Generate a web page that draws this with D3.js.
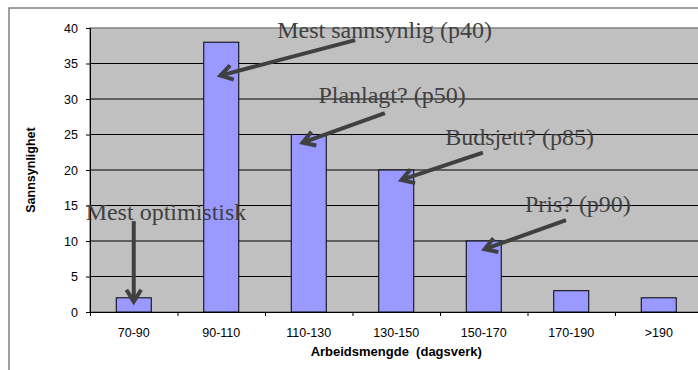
<!DOCTYPE html>
<html>
<head>
<meta charset="utf-8">
<script src="https://cdn.jsdelivr.net/npm/d3@7"></script>
<style>
  html, body { margin: 0; padding: 0; background: #ffffff; }
  svg { display: block; }
</style>
</head>
<body>
<svg id="chart" width="698" height="370"></svg>
<script>
// Arbeidsmengde distribution
const categories = ["70-90", "90-110", "110-130", "130-150", "150-170", "170-190", ">190"];
const values = [2, 38, 25, 20, 10, 3, 2];
const yTicks = [0, 5, 10, 15, 20, 25, 30, 35, 40];

// Callouts: text anchor and arrow tail/head, in (category-index units, value units)
const annLabels = ["Mest sannsynlig (p40)", "Planlagt? (p50)", "Budsjett? (p85)", "Pris? (p90)", "Mest optimistisk"];
const annTextX = [2.14, 2.61, 4.06, 4.97, -0.05];
const annTextY = [38.6, 29.45, 23.5, 14.15, 12.95];
const annTailX = [3.03, 3.37, 4.49, 5.44, 0.5];
const annTailY = [38.3, 28.0, 22.45, 12.95, 12.8];
const annHeadX = [1.49, 2.43, 3.56, 4.51, 0.5];
const annHeadY = [33.3, 23.85, 18.6, 8.85, 1.45];

const svg = d3.select("#chart");
const margin = { left: 90, top: 28, bottom: 312 };
const bandW = 87.5;
const plotRight = margin.left + bandW * categories.length;

const x = d3.scaleBand().domain(categories).range([margin.left, plotRight]).paddingInner(0.6).paddingOuter(0.3);
const xi = d3.scaleLinear().domain([0, categories.length]).range([margin.left, plotRight]);
const y = d3.scaleLinear().domain([0, 40]).range([margin.bottom, margin.top]);

// outer chart frame
svg.append("rect")
  .attr("x", 9).attr("y", 8).attr("width", 720).attr("height", 400)
  .attr("fill", "#ffffff").attr("stroke", "#808080").attr("stroke-width", 1.5);

// plot area
svg.append("rect")
  .attr("x", margin.left).attr("y", margin.top)
  .attr("width", plotRight - margin.left).attr("height", margin.bottom - margin.top)
  .attr("fill", "#c0c0c0").attr("stroke", "#808080").attr("stroke-width", 1.5);

// gridlines
svg.append("g").selectAll("line").data(yTicks.filter(d => d > 0 && d < 40)).join("line")
  .attr("x1", margin.left).attr("x2", plotRight)
  .attr("y1", d => y(d)).attr("y2", d => y(d))
  .attr("stroke", "#000").attr("stroke-width", 1);

// bars
svg.append("g").selectAll("rect").data(values).join("rect")
  .attr("x", (d, i) => x(categories[i]))
  .attr("width", x.bandwidth())
  .attr("y", d => y(d))
  .attr("height", d => y(0) - y(d))
  .attr("fill", "#9999ff").attr("stroke", "#000").attr("stroke-width", 1);

// y axis
const yAxis = d3.axisLeft(y).tickValues(yTicks).tickSize(4).tickPadding(8);
const gy = svg.append("g").attr("transform", `translate(${margin.left},0)`).call(yAxis);
gy.select(".domain").attr("stroke", "#000");
gy.selectAll(".tick line").attr("stroke", "#000");
gy.selectAll("text").attr("font-family", "Liberation Sans, Arial, sans-serif").attr("font-size", 12.5).attr("fill", "#000");

// x axis
const xAxis = d3.axisBottom(xi).tickValues(d3.range(0, categories.length + 1)).tickSize(4).tickFormat("");
const gx = svg.append("g").attr("transform", `translate(0,${margin.bottom})`).call(xAxis);
gx.select(".domain").attr("stroke", "#000");
gx.selectAll(".tick line").attr("stroke", "#000");
svg.append("g").selectAll("text").data(categories).join("text")
  .attr("x", d => x(d) + x.bandwidth() / 2)
  .attr("y", 337)
  .attr("text-anchor", "middle")
  .attr("font-family", "Liberation Sans, Arial, sans-serif").attr("font-size", 12.5)
  .attr("fill", "#000")
  .text(d => d);

// axis titles
svg.append("text")
  .attr("transform", `translate(35,${(margin.top + margin.bottom) / 2}) rotate(-90)`)
  .attr("text-anchor", "middle")
  .attr("font-family", "Liberation Sans, Arial, sans-serif").attr("font-size", 12.5).attr("font-weight", "bold")
  .text("Sannsynlighet");
svg.append("text")
  .attr("x", (margin.left + plotRight) / 2).attr("y", 356)
  .attr("text-anchor", "middle")
  .attr("font-family", "Liberation Sans, Arial, sans-serif").attr("font-size", 13).attr("font-weight", "bold")
  .attr("xml:space", "preserve")
  .text("Arbeidsmengde  (dagsverk)");

// callout texts
svg.append("g").selectAll("text").data(annLabels).join("text")
  .attr("x", (d, i) => xi(annTextX[i]))
  .attr("y", (d, i) => y(annTextY[i]))
  .attr("font-family", "Liberation Serif, Times New Roman, serif").attr("font-size", 24)
  .attr("fill", "#404040")
  .text(d => d);

// callout arrows
const arrows = svg.append("g").attr("stroke", "#404040").attr("stroke-width", 4).attr("fill", "none");
annLabels.forEach((lab, i) => {
  const x0 = xi(annTailX[i]), y0 = y(annTailY[i]);
  const x1 = xi(annHeadX[i]), y1 = y(annHeadY[i]);
  const ang = Math.atan2(y1 - y0, x1 - x0);
  const len = 14, spread = 0.55;
  arrows.append("line").attr("x1", x0).attr("y1", y0).attr("x2", x1).attr("y2", y1);
  const w1 = [x1 - len * Math.cos(ang - spread), y1 - len * Math.sin(ang - spread)];
  const w2 = [x1 - len * Math.cos(ang + spread), y1 - len * Math.sin(ang + spread)];
  arrows.append("path")
    .attr("d", `M${w1[0]},${w1[1]}L${x1},${y1}L${w2[0]},${w2[1]}`)
    .attr("stroke-linejoin", "miter");
});
</script>
</body>
</html>
